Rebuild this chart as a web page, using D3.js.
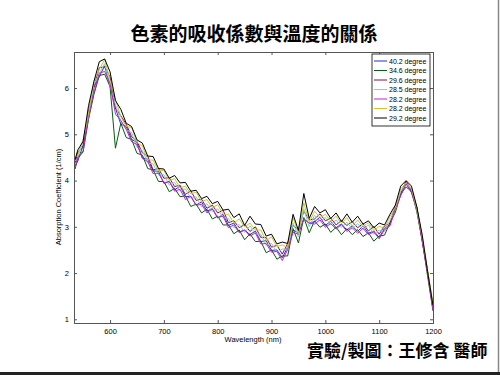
<!DOCTYPE html>
<html><head><meta charset="utf-8">
<script src="https://cdn.jsdelivr.net/npm/d3@7"></script>
<style>
html,body{margin:0;padding:0;background:#fff;}
svg{display:block;}
</style></head>
<body>
<svg id="c" width="500" height="375"></svg>
<script>
const title = "色素的吸收係數與溫度的關係";
const credit = "實驗/製圖：王修含 醫師";
const xLabel = "Wavelength (nm)";
const yLabel = "Absorption Coefficient (1/cm)";
const xTicks = [600, 700, 800, 900, 1000, 1100, 1200];
const yTicks = [1, 2, 3, 4, 5, 6];
const seriesNames = ["40.2 degree", "34.6 degree", "29.6 degree", "28.5 degree", "28.2 degree", "28.2 degree", "29.2 degree"];
const seriesColors = ["#2a2ad0", "#0b5a12", "#86103a", "#7fd0d0", "#c424c4", "#c8c832", "#000000"];
const wavelengths = [535, 540, 550, 560, 570, 580, 590, 600, 610, 620, 630, 640, 650, 660, 670, 680, 690, 700, 710, 720, 730, 740, 750, 760, 770, 780, 790, 800, 810, 820, 830, 840, 850, 860, 870, 880, 890, 900, 910, 920, 930, 940, 950, 960, 970, 980, 990, 1000, 1010, 1020, 1030, 1040, 1050, 1060, 1070, 1080, 1090, 1100, 1110, 1120, 1130, 1140, 1150, 1160, 1170, 1180, 1190, 1200];
const blue = [4.32,4.42,4.77,5.35,6.02,6.25,6.48,6.04,5.57,5.22,5.17,4.89,4.82,4.49,4.46,4.21,4.20,3.94,3.98,3.80,3.88,3.65,3.66,3.47,3.54,3.34,3.39,3.19,3.27,3.03,3.08,2.89,2.93,2.83,2.91,2.68,2.70,2.49,2.50,2.33,2.56,2.93,2.87,3.17,3.08,3.11,3.21,3.03,3.12,2.98,3.06,2.93,3.02,2.90,3.02,2.86,2.91,2.77,2.97,3.04,3.41,3.69,3.94,3.74,3.41,2.70,2.02,1.22];
const green = [4.25,4.48,4.62,5.33,5.86,6.27,6.30,6.03,4.70,5.24,4.93,4.89,4.59,4.55,4.26,4.23,3.98,3.98,3.76,3.83,3.65,3.67,3.44,3.49,3.30,3.38,3.17,3.23,3.04,3.04,2.85,2.93,2.72,2.85,2.68,2.69,2.44,2.50,2.30,2.37,2.37,2.96,2.65,3.20,2.87,3.13,2.99,3.06,2.88,2.99,2.83,2.96,2.83,2.94,2.79,2.87,2.69,2.80,2.82,3.09,3.31,3.71,3.86,3.77,3.32,2.70,1.93,1.18];
const red = [4.38,4.62,4.72,5.50,6.02,6.44,6.46,6.24,5.57,5.40,5.22,4.95,4.85,4.60,4.53,4.23,4.26,4.05,4.06,3.87,3.90,3.70,3.78,3.57,3.60,3.40,3.47,3.30,3.36,3.09,3.13,2.98,3.05,2.90,3.00,2.77,2.77,2.56,2.60,2.41,2.64,3.03,2.94,3.34,3.15,3.17,3.28,3.13,3.19,3.04,3.14,3.03,3.11,2.98,3.07,2.91,3.01,2.84,3.02,3.08,3.45,3.73,3.99,3.78,3.42,2.71,2.04,1.28];
const cyan = [4.42,4.48,4.86,5.37,6.07,6.32,6.53,6.06,5.64,5.28,5.10,5.04,4.72,4.65,4.38,4.36,4.12,4.13,3.90,3.96,3.78,3.82,3.62,3.65,3.43,3.50,3.33,3.39,3.20,3.18,2.98,3.05,2.88,3.02,2.85,2.84,2.60,2.64,2.45,2.52,2.50,3.08,2.79,3.39,3.00,3.25,3.12,3.20,3.04,3.15,2.99,3.10,2.95,3.07,2.94,3.04,2.84,2.93,2.89,3.14,3.37,3.77,3.92,3.82,3.37,2.77,2.02,1.26];
const magenta = [4.28,4.51,4.65,5.39,5.90,6.32,6.36,6.10,5.44,5.30,5.11,4.84,4.78,4.48,4.41,4.15,4.16,3.95,3.98,3.77,3.81,3.59,3.66,3.46,3.49,3.30,3.39,3.20,3.23,2.98,3.04,2.87,2.93,2.80,2.87,2.63,2.64,2.45,2.47,2.27,2.51,2.88,2.84,3.17,3.08,3.06,3.15,2.99,3.07,2.95,3.05,2.90,2.98,2.86,2.97,2.83,2.89,2.74,2.94,3.02,3.38,3.67,3.93,3.74,3.39,2.68,2.00,1.20];
const yellow = [4.50,4.55,4.89,5.46,6.16,6.40,6.62,6.17,5.76,5.38,5.17,5.15,4.82,4.75,4.45,4.44,4.21,4.22,4.00,4.04,3.84,3.88,3.71,3.75,3.54,3.59,3.41,3.48,3.27,3.27,3.08,3.17,3.00,3.08,2.93,2.93,2.70,2.78,2.57,2.61,2.55,3.20,2.86,3.52,3.10,3.34,3.20,3.27,3.12,3.23,3.07,3.20,3.01,3.15,3.00,3.09,2.92,3.01,2.97,3.22,3.42,3.82,3.95,3.84,3.39,2.80,2.06,1.35];
const black = [4.45,4.66,4.85,5.62,6.14,6.57,6.63,6.35,5.73,5.54,5.24,5.17,4.88,4.81,4.53,4.52,4.26,4.25,4.05,4.11,3.95,3.96,3.77,3.79,3.61,3.66,3.50,3.55,3.36,3.38,3.20,3.28,3.03,3.23,3.06,3.05,2.80,2.84,2.63,2.67,2.64,3.27,2.92,3.72,3.18,3.44,3.30,3.37,3.18,3.30,3.11,3.28,3.10,3.23,3.06,3.13,2.98,3.08,3.04,3.27,3.47,3.88,4.00,3.88,3.43,2.82,2.03,1.30];
const seriesValues = [blue, green, red, cyan, magenta, yellow, black];

const svg = d3.select("#c");
const L = 74, R = 433, T = 52, B = 323;
const x = d3.scaleLinear().domain([533, 1200]).range([L, R]);
const y = d3.scaleLinear().domain([0.92, 6.78]).range([B, T]);
const font = "'Liberation Sans', Arial, sans-serif";
const cjk = "'Noto Sans CJK TC', 'Noto Sans CJK SC', sans-serif";

svg.append("line").attr("x1", 498.5).attr("x2", 498.5).attr("y1", 0).attr("y2", 375).attr("stroke", "#888").attr("stroke-width", 1.5);
svg.append("line").attr("x1", 0).attr("x2", 500).attr("y1", 373.5).attr("y2", 373.5).attr("stroke", "#222").attr("stroke-width", 3);

svg.append("text").attr("x", 254).attr("y", 41).attr("text-anchor", "middle")
  .attr("font-family", cjk).attr("font-weight", "bold").attr("font-size", 19).attr("fill", "#000").text(title);

svg.append("clipPath").attr("id", "pc").append("rect").attr("x", L).attr("y", T).attr("width", R - L).attr("height", B - T);
const lineGen = d3.line().x((d, i) => x(wavelengths[i])).y(d => y(d));
const plotG = svg.append("g").attr("clip-path", "url(#pc)");
seriesValues.forEach((vals, k) => {
  plotG.append("path").datum(vals).attr("d", lineGen).attr("fill", "none")
    .attr("stroke", seriesColors[k]).attr("stroke-width", 1).attr("stroke-linejoin", "round");
});

const axColor = "#555";
const axBottom = svg.append("g").attr("transform", `translate(0,${B})`)
  .call(d3.axisBottom(x).tickValues(xTicks).tickSize(-3).tickPadding(6).tickFormat(d3.format("d")));
const axTop = svg.append("g").attr("transform", `translate(0,${T})`)
  .call(d3.axisTop(x).tickValues(xTicks).tickSize(-3).tickFormat(""));
const axLeft = svg.append("g").attr("transform", `translate(${L},0)`)
  .call(d3.axisLeft(y).tickValues(yTicks).tickSize(-3).tickPadding(5).tickFormat(d3.format("d")));
const axRight = svg.append("g").attr("transform", `translate(${R},0)`)
  .call(d3.axisRight(y).tickValues(yTicks).tickSize(-3).tickFormat(""));
[axBottom, axTop, axLeft, axRight].forEach(a => {
  a.select(".domain").attr("stroke", axColor).attr("stroke-width", 1);
  a.selectAll(".tick line").attr("stroke", axColor);
  a.selectAll("text").attr("font-family", font).attr("font-size", 7.5).attr("fill", "#000");
});

svg.append("text").attr("x", 253).attr("y", 342).attr("text-anchor", "middle")
  .attr("font-family", font).attr("font-size", 7.5).text(xLabel);
svg.append("text").attr("transform", "translate(61,197) rotate(-90)").attr("text-anchor", "middle")
  .attr("font-family", font).attr("font-size", 7.5).text(yLabel);

const lg = svg.append("g");
lg.append("rect").attr("x", 372).attr("y", 54).attr("width", 58).attr("height", 72)
  .attr("fill", "#fff").attr("stroke", "#000").attr("stroke-width", 0.8);
seriesNames.forEach((n, k) => {
  const yy = 61 + k * 9.5;
  lg.append("line").attr("x1", 374).attr("x2", 387).attr("y1", yy).attr("y2", yy)
    .attr("stroke", seriesColors[k]).attr("stroke-width", 1);
  lg.append("text").attr("x", 389).attr("y", yy + 2.5).attr("font-family", font)
    .attr("font-size", 7).text(n);
});

svg.append("text").attr("x", 307).attr("y", 357).attr("font-family", cjk)
  .attr("font-weight", "bold").attr("font-size", 17).attr("fill", "#000").text(credit);
</script>
</body></html>
